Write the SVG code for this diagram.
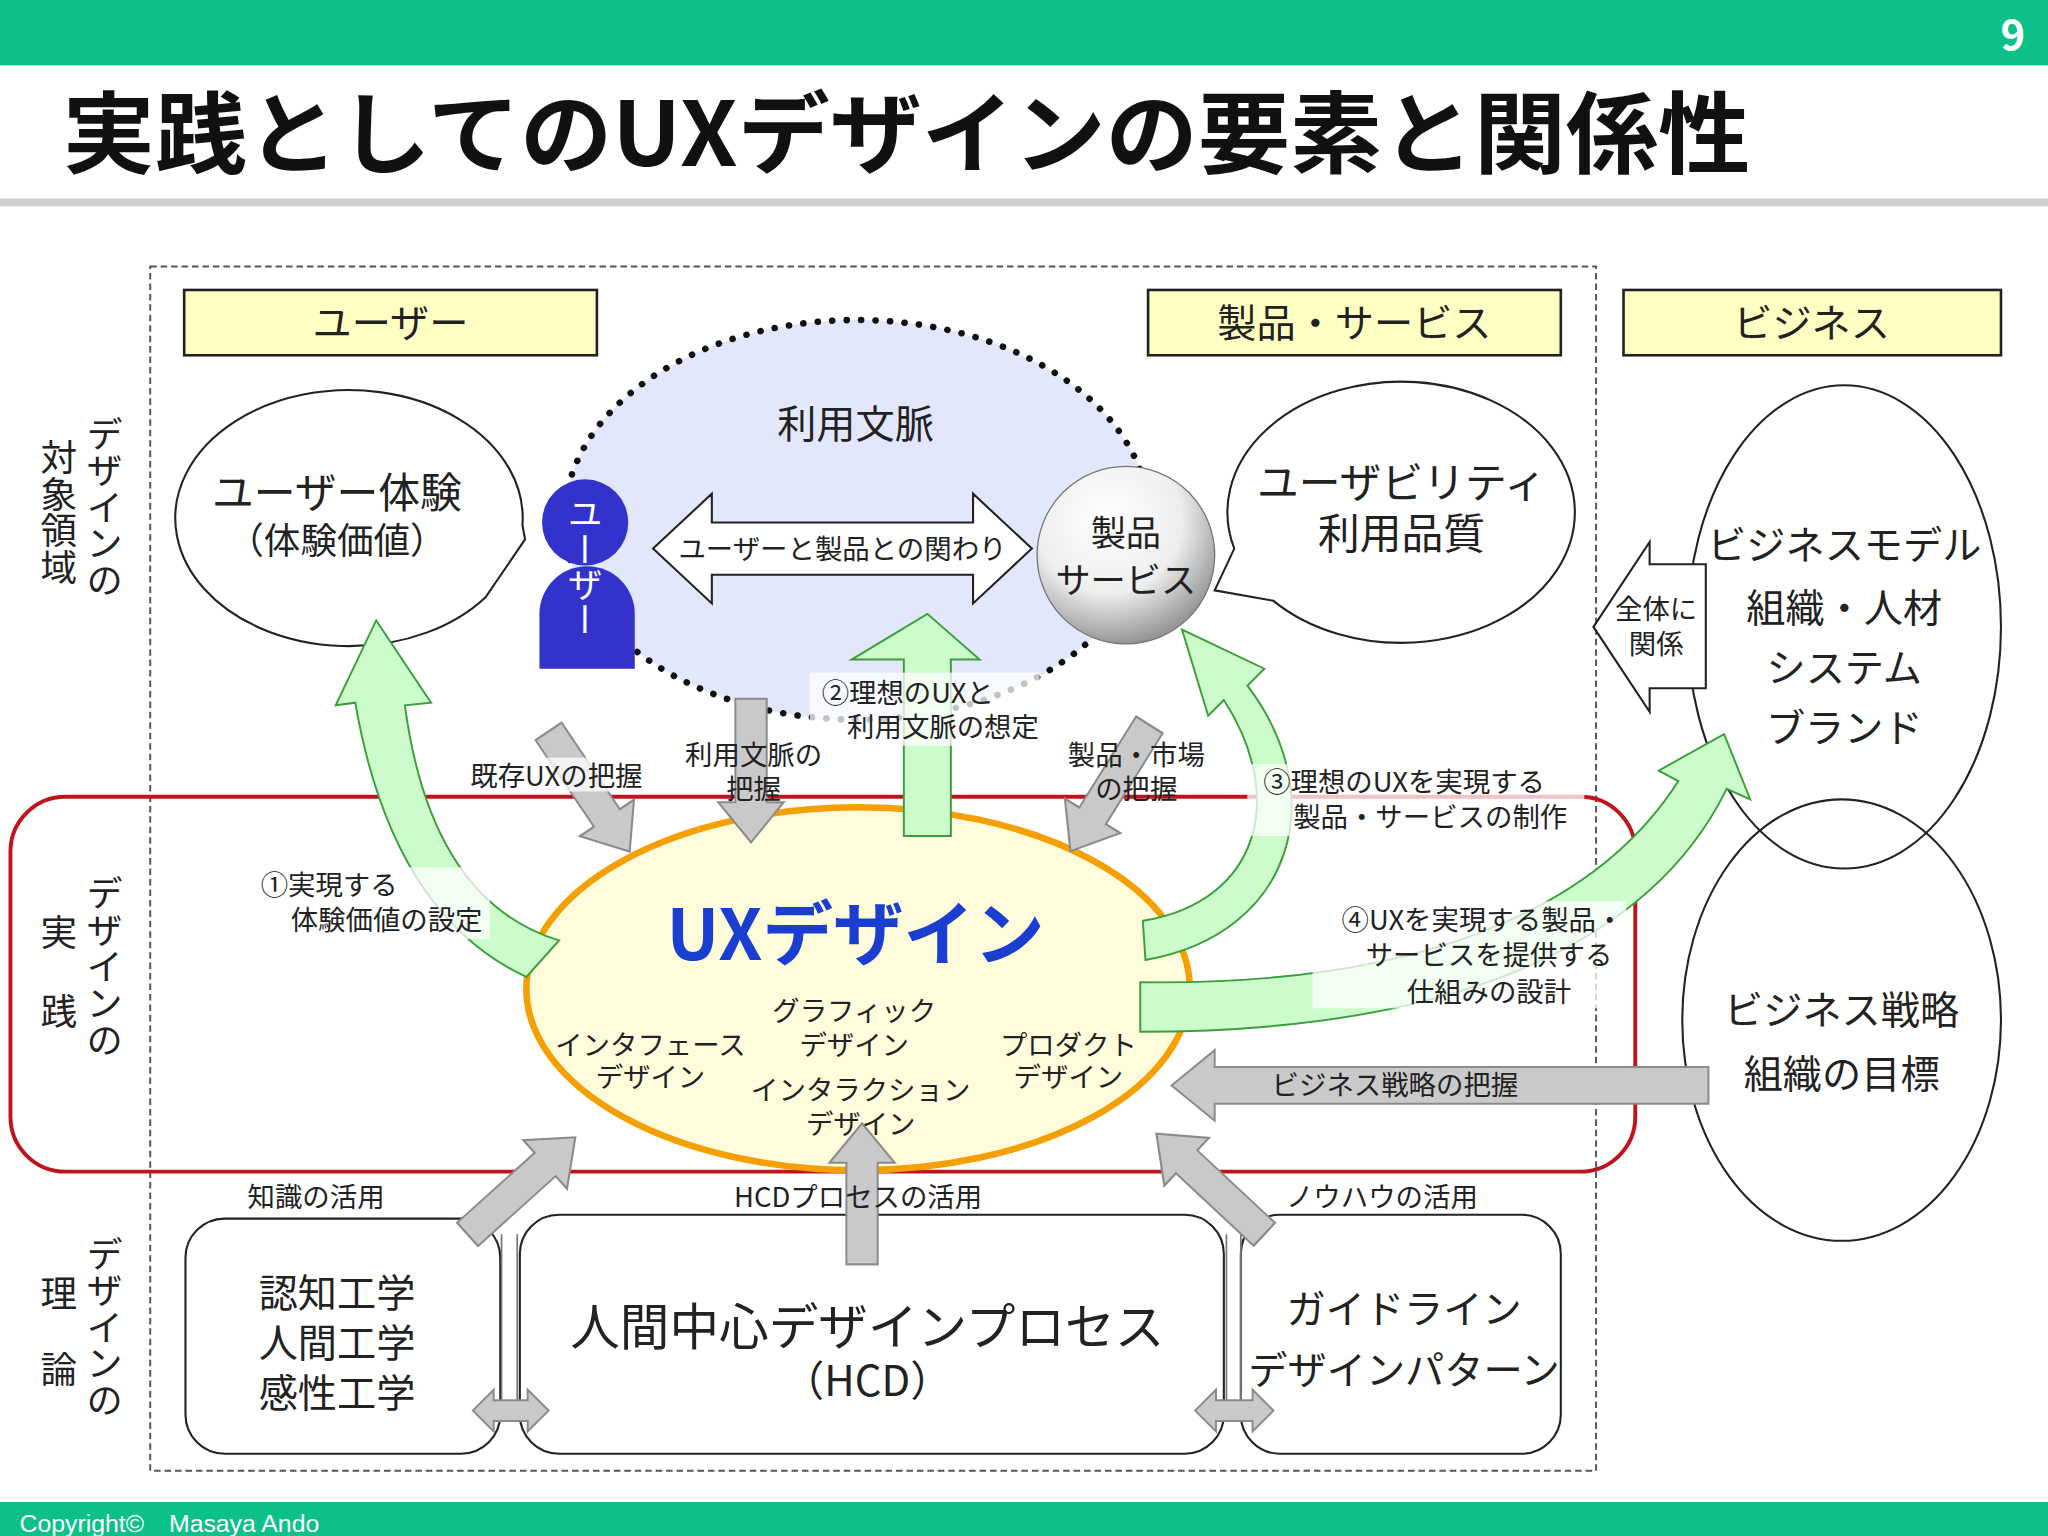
<svg xmlns="http://www.w3.org/2000/svg" width="2048" height="1536" viewBox="0 0 2048 1536">
<defs>
<style>
text{font-family:"Noto Sans CJK JP","Noto Sans",sans-serif;fill:#222;text-anchor:middle}
.lab{font-size:30px}
.sm{font-size:21px}
.vt{writing-mode:vertical-rl;font-size:28px;text-anchor:start}
.ybox{fill:#ffffc4;stroke:#222;stroke-width:2}
.line{fill:#fff;stroke:#222;stroke-width:1.6}
.garr{fill:#c9c9c9;stroke:#8a8a8a;stroke-width:1.5}
.grn{fill:#ccfccc;stroke:#3c9e3c;stroke-width:1.5}
.bg{fill:#fff;opacity:0.75}
</style>
<radialGradient id="sph" cx="0.4" cy="0.3" r="0.75">
<stop offset="0" stop-color="#fff"/><stop offset="0.55" stop-color="#eee"/><stop offset="1" stop-color="#888"/>
</radialGradient>
<path id="ga" d="M0,-12 L72,-12 L72,-25 L100,0 L72,25 L72,12 L0,12 Z"/>
</defs>
<rect width="2048" height="1536" fill="#fff"/>
<g transform="scale(1.30612)">
<g id="header">
<rect x="0" y="0" width="1568" height="50" fill="#0cc189"/>
<text x="1541" y="38" style="font-size:32px;font-weight:bold;fill:#fff">9</text>
<text x="48" y="127" textLength="1292" lengthAdjust="spacingAndGlyphs" style="font-size:68px;font-weight:bold;text-anchor:start;fill:#111">実践としてのUXデザインの要素と関係性</text>
<rect x="0" y="152" width="1568" height="6" fill="#d0d0d0"/>
<rect x="0" y="1150" width="1568" height="26" fill="#0cc189"/>
<text x="15" y="1173" style="font-size:19px;text-anchor:start;fill:#fff;font-family:'Liberation Sans Narrow','Liberation Sans',sans-serif">Copyright©　Masaya Ando</text>
</g>
<rect x="115" y="204" width="1107" height="922" fill="none" stroke="#555" stroke-width="1.5" stroke-dasharray="5,3"/>
<g id="side-labels">
<text class="vt" x="80" y="318">デザインの</text>
<text class="vt" x="45" y="336">対象領域</text>
<text class="vt" x="80" y="670">デザインの</text>
<text class="vt" x="45" y="700">実</text>
<text class="vt" x="45" y="760">践</text>
<text class="vt" x="80" y="946">デザインの</text>
<text class="vt" x="45" y="976">理</text>
<text class="vt" x="45" y="1034">論</text>
</g>
<g id="yellow-labels">
<rect class="ybox" x="141" y="222" width="316" height="50"/><text class="lab" x="299" y="258">ユーザー</text>
<rect class="ybox" x="879" y="222" width="316" height="50"/><text class="lab" x="1037" y="258">製品・サービス</text>
<rect class="ybox" x="1243" y="222" width="289" height="50"/><text class="lab" x="1387" y="258">ビジネス</text>
</g>
<g id="context">
<ellipse cx="656" cy="398" rx="224" ry="153" fill="#e3e7fb" stroke="#111" stroke-width="5" stroke-dasharray="0.1,11" stroke-linecap="round"/>
<text class="lab" x="655" y="335">利用文脈</text>
</g>
<g id="user-experience">
<path class="line" d="M402 413 L372 457 A133 98 0 1 1 400 402 Z"/>
<text x="258" y="389" style="font-size:32px">ユーザー体験</text>
<text x="258" y="424" style="font-size:28px">（体験価値）</text>
</g>
<g id="usability">
<path class="line" d="M930 452 L945 420 A133 100 0 1 1 975 460 Z"/>
<text x="1073" y="381" style="font-size:32px">ユーザビリティ</text>
<text x="1073" y="420" style="font-size:32px">利用品質</text>
</g>
<g id="user-figure">
<circle cx="448" cy="400" r="33" fill="#3333cc"/>
<path d="M413 512 L413 470 A36 36 0 0 1 486 470 L486 512 Z" fill="#3333cc"/>
<text class="vt" x="448" y="380" style="font-size:27px;fill:#fff;text-anchor:start">ユーザー</text>
</g>
<g id="relation">
<path class="line" d="M500 420 L545 378 L545 400 L745 400 L745 378 L790 420 L745 462 L745 440 L545 440 L545 462 Z"/>
<text x="645" y="428" style="font-size:21px">ユーザーと製品との関わり</text>
</g>
<g id="product">
<circle cx="862" cy="425" r="68" fill="url(#sph)" stroke="#777" stroke-width="1"/>
<text x="862" y="418" style="font-size:27px">製品</text>
<text x="862" y="454" style="font-size:27px">サービス</text>
</g>
<g id="business">
<ellipse cx="1412" cy="480" rx="120" ry="185" fill="none" stroke="#222" stroke-width="1.6"/>
<ellipse cx="1410" cy="781" rx="122" ry="169" fill="none" stroke="#222" stroke-width="1.6"/>
<text class="lab" x="1412" y="428">ビジネスモデル</text>
<text class="lab" x="1412" y="476">組織・人材</text>
<text class="lab" x="1412" y="522">システム</text>
<text class="lab" x="1412" y="568">ブランド</text>
<text class="lab" x="1410" y="784">ビジネス戦略</text>
<text class="lab" x="1410" y="833">組織の目標</text>
<path class="line" d="M1220 480 L1263 415 L1263 432 L1306 432 L1306 527 L1263 527 L1263 545 Z"/>
<text x="1268" y="474" style="font-size:21px">全体に</text>
<text x="1268" y="501" style="font-size:21px">関係</text>
</g>
<rect x="8" y="610" width="1244" height="287" rx="42" fill="none" stroke="#c0141c" stroke-width="3"/>
<g id="ux">
<ellipse cx="657" cy="757" rx="254" ry="139" fill="#fffcdc" stroke="#f5a000" stroke-width="5"/>
<text x="655" y="735" style="font-size:54px;font-weight:bold;fill:#1a3fd0">UXデザイン</text>
<text class="sm" x="498" y="808">インタフェース</text><text class="sm" x="498" y="832">デザイン</text>
<text class="sm" x="654" y="782">グラフィック</text><text class="sm" x="654" y="808">デザイン</text>
<text class="sm" x="659" y="842">インタラクション</text><text class="sm" x="659" y="868">デザイン</text>
<text class="sm" x="818" y="808">プロダクト</text><text class="sm" x="818" y="832">デザイン</text>
</g>
<g id="theory">
<rect class="line" x="142" y="933" width="241" height="180" rx="30"/>
<rect class="line" x="398" y="930" width="539" height="183" rx="30"/>
<rect class="line" x="950" y="930" width="245" height="183" rx="30"/>
<text class="lab" x="258" y="1001">認知工学</text>
<text class="lab" x="258" y="1039">人間工学</text>
<text class="lab" x="258" y="1077">感性工学</text>
<text x="664" y="1030" style="font-size:38px">人間中心デザインプロセス</text>
<text x="664" y="1069" style="font-size:32px">（HCD）</text>
<text class="lab" x="1075" y="1013">ガイドライン</text>
<text class="lab" x="1075" y="1060">デザインパターン</text>
</g>
<g id="connectors">
<path class="grn" d="M403 748 Q300 700 272 538 L257 540 L288 475 L330 538 L310 540 Q330 690 428 720 Z"/>
<path class="grn" d="M877 735 C990 715 1020 610 955 525 L968 512 L905 482 L925 548 L937 536 C985 610 965 690 875 705 Z"/>
<path class="grn" d="M873 752 C1080 755 1220 700 1285 598 L1270 590 L1320 562 L1340 612 L1322 604 C1260 730 1100 790 873 790 Z"/>
<path class="grn" d="M692 640 L692 505 L652 505 L710 470 L750 505 L728 505 L728 640 Z"/>
<use href="#ga" class="garr" transform="translate(420 560) rotate(56) scale(1.11 1)"/>
<use href="#ga" class="garr" transform="translate(575 535) rotate(90) scale(1.1 1)"/>
<use href="#ga" class="garr" transform="translate(880 555) rotate(122) scale(1.14 1)"/>
<use href="#ga" class="garr" transform="translate(358 945) rotate(-42) scale(1.11 1)"/>
<use href="#ga" class="garr" transform="translate(660 968) rotate(-90) scale(1.08 1)"/>
<use href="#ga" class="garr" transform="translate(968 945) rotate(-137) scale(1.13 1)"/>
<path class="garr" d="M1308 817 L930 817 L930 804 L897 831 L930 858 L930 845 L1308 845 Z"/>
<g stroke="#777" stroke-width="1.3">
<line x1="384" y1="945" x2="384" y2="1072"/><line x1="396" y1="945" x2="396" y2="1072"/>
<line x1="939" y1="945" x2="939" y2="1072"/><line x1="950" y1="945" x2="950" y2="1072"/>
</g>
<path class="garr" d="M362 1080 L378 1064 L378 1072 L404 1072 L404 1064 L420 1080 L404 1096 L404 1088 L378 1088 L378 1096 Z"/>
<path class="garr" d="M915 1080 L931 1064 L931 1072 L959 1072 L959 1064 L975 1080 L959 1096 L959 1088 L931 1088 L931 1096 Z"/>
</g>
<g id="connector-labels">
<rect class="bg" x="352" y="580" width="148" height="26"/>
<text class="sm" x="426" y="602">既存UXの把握</text>
<text class="sm" x="577" y="586">利用文脈の</text>
<text class="sm" x="577" y="612">把握</text>
<rect class="bg" x="620" y="515" width="176" height="56"/>
<text class="sm" x="695" y="538">②理想のUXと</text>
<text class="sm" x="722" y="564">利用文脈の想定</text>
<text class="sm" x="870" y="586">製品・市場</text>
<text class="sm" x="870" y="612">の把握</text>
<rect class="bg" x="955" y="585" width="258" height="55"/>
<text class="sm" x="1075" y="606">③理想のUXを実現する</text>
<text class="sm" x="1095" y="633">製品・サービスの制作</text>
<rect class="bg" x="195" y="664" width="180" height="55"/>
<text class="sm" x="252" y="685">①実現する</text>
<text class="sm" x="296" y="712">体験価値の設定</text>
<rect class="bg" x="1005" y="690" width="240" height="82"/>
<text class="sm" x="1135" y="712">④UXを実現する製品・</text>
<text class="sm" x="1140" y="739">サービスを提供する</text>
<text class="sm" x="1140" y="767">仕組みの設計</text>
<text class="sm" x="1068" y="838">ビジネス戦略の把握</text>
<text class="sm" x="242" y="924">知識の活用</text>
<text class="sm" x="657" y="924">HCDプロセスの活用</text>
<text class="sm" x="1058" y="924">ノウハウの活用</text>
</g>
</g>
</svg>
